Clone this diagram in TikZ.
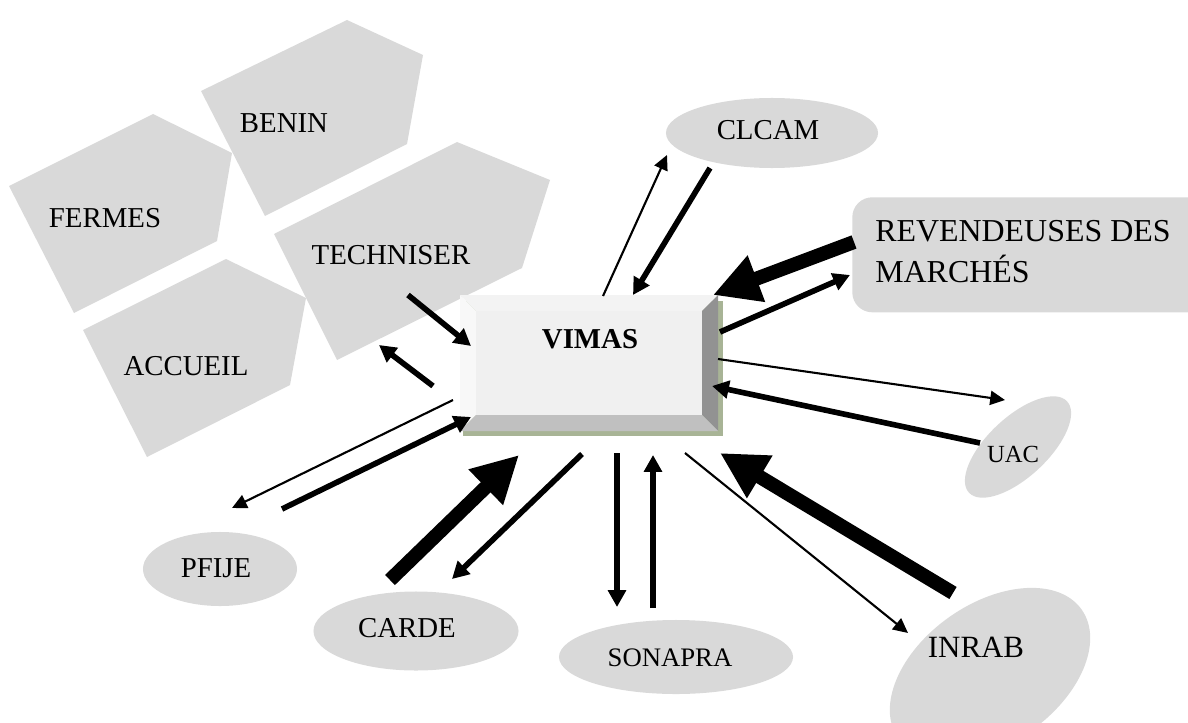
\documentclass[tikz,border=0pt]{standalone}
\usepackage{fontspec}
\setmainfont{Liberation Serif}
\usetikzlibrary{arrows.meta,positioning,shapes.geometric}
\definecolor{blobgray}{HTML}{D9D9D9}
\definecolor{bevtop}{HTML}{F3F3F3}
\definecolor{bevleft}{HTML}{F8F8F8}
\definecolor{bevface}{HTML}{F0F0F0}
\definecolor{bevright}{HTML}{929292}
\definecolor{bevbottom}{HTML}{C0C0C0}
\definecolor{boxshadow}{HTML}{A8B496}
\tikzset{
  blob/.style={fill=blobgray},
  oval/.style={ellipse,fill=blobgray,inner sep=0pt},
  lbl/.style={inner sep=0pt,anchor=base,font=\fontsize{20.5}{24}\selectfont},
  thinarr/.style={line width=1.5pt,-{Triangle[length=10.5pt,width=10pt]}},
  midarr/.style={line width=4pt,-{Triangle[length=12pt,width=12.5pt]}},
  bigarr/.style={line width=10pt,-{Triangle[length=33pt,width=33pt]}}
}

\begin{document}
\begin{tikzpicture}[x=0.025cm,y=-0.025cm]
\useasboundingbox (0,0) rectangle (1188,722);
\clip (0,0) rectangle (1188,722);
\fill[blob] (153,114)--(232,153)--(217,241)--(74,313)--(9,186)--cycle;
\fill[blob] (201,91)--(347,20)--(423,55)--(407,144)--(265,216)--cycle;
\fill[blob] (274,234)--(457,142)--(550,180)--(522,268)--(337,360)--cycle;
\fill[blob] (83,330)--(226,259)--(306,298)--(290,385)--(147,457)--cycle;
\node[lbl] (fermes) at (105,227) {FERMES};
\node[lbl] (benin) at (284,133) {BENIN};
\node[lbl] (techniser) at (391,264) {TECHNISER};
\node[lbl] (accueil) at (186,375) {ACCUEIL};
\coordinate (b1) at (460,295);
\coordinate (b2) at (718,295);
\coordinate (b3) at (718,431);
\coordinate (b4) at (460,431);
\coordinate (i1) at (476,311);
\coordinate (i2) at (702,311);
\coordinate (i3) at (702,415);
\coordinate (i4) at (476,415);
\fill[boxshadow] (463,301) rectangle (723,436);
\fill[bevtop] (b1)--(b2)--(i2)--(i1)--cycle;
\fill[bevleft] (b1)--(i1)--(i4)--(b4)--cycle;
\fill[bevright] (b2)--(b3)--(i3)--(i2)--cycle;
\fill[bevbottom] (b4)--(i4)--(i3)--(b3)--cycle;
\fill[bevface] (i1) rectangle (i3);
\node[lbl,font=\fontsize{20.5}{24}\selectfont\bfseries] (vimas) at (590,348) {VIMAS};
\node[oval,minimum width=5.3cm,minimum height=1.75cm] (clcam) at (772,133) {};
\node[lbl] (clcam-t) at (768,140) {CLCAM};
\node[fill=blobgray,rounded corners=0.5cm,minimum width=9cm,minimum height=2.875cm,anchor=north west,inner sep=0pt] (rev) at (852,197) {};
\node[anchor=north west,inner sep=0pt,align=left,font=\fontsize{22.7}{29.2}\selectfont] (rev-t) at (875,220) {REVENDEUSES DES\\MARCHÉS};
\node[oval,minimum width=3.35cm,minimum height=1.5cm,rotate=43] (uac) at (1018,447) {};
\node[lbl,font=\fontsize{17.5}{20}\selectfont] (uac-t) at (1013,462) {UAC};
\node[oval,minimum width=5.6cm,minimum height=3.5cm,rotate=35] (inrab) at (990,674) {};
\node[lbl,font=\fontsize{22}{26}\selectfont] (inrab-t) at (976,657) {INRAB};
\node[oval,minimum width=5.85cm,minimum height=1.85cm] (sonapra) at (676,657) {};
\node[lbl,font=\fontsize{19}{22}\selectfont] (sonapra-t) at (670,666) {SONAPRA};
\node[oval,minimum width=5.125cm,minimum height=1.975cm] (carde) at (416,631) {};
\node[lbl] (carde-t) at (407,637) {CARDE};
\node[oval,minimum width=3.85cm,minimum height=1.85cm] (pfije) at (220,569) {};
\node[lbl] (pfije-t) at (216,577) {PFIJE};
\coordinate (tv1) at (408,295);
\coordinate (tv2) at (471,346);
\coordinate (vt1) at (433,386);
\coordinate (vt2) at (379,345);
\coordinate (vp1) at (453,400);
\coordinate (vp2) at (232,508);
\coordinate (pv1) at (282,509);
\coordinate (pv2) at (471,417);
\coordinate (cv1) at (390,580);
\coordinate (cv2) at (519,455);
\coordinate (vc1) at (582,454);
\coordinate (vc2) at (452,579);
\coordinate (vs1) at (617,453);
\coordinate (vs2) at (617,607);
\coordinate (sv1) at (653,608);
\coordinate (sv2) at (653,455);
\coordinate (vi1) at (685,453);
\coordinate (vi2) at (908,633);
\coordinate (iv1) at (953,593);
\coordinate (iv2) at (720,453);
\coordinate (uv1) at (980,443);
\coordinate (uv2) at (712,386);
\coordinate (vu1) at (718,359);
\coordinate (vu2) at (1005,400);
\coordinate (vr1) at (720,332);
\coordinate (vr2) at (850,275);
\coordinate (rv1) at (854,242);
\coordinate (rv2) at (713,295);
\coordinate (lv1) at (710,168);
\coordinate (lv2) at (633,295);
\coordinate (vl1) at (603,296);
\coordinate (vl2) at (667,155);
\draw[midarr] (tv1)--(tv2);
\draw[midarr] (vt1)--(vt2);
\draw[thinarr] (vp1)--(vp2);
\draw[midarr] (pv1)--(pv2);
\draw[bigarr] (cv1)--(cv2);
\draw[midarr] (vc1)--(vc2);
\draw[midarr] (vs1)--(vs2);
\draw[midarr] (sv1)--(sv2);
\draw[thinarr] (vi1)--(vi2);
\draw[bigarr] (iv1)--(iv2);
\draw[midarr] (uv1)--(uv2);
\draw[thinarr] (vu1)--(vu2);
\draw[midarr] (vr1)--(vr2);
\draw[bigarr] (rv1)--(rv2);
\draw[midarr] (lv1)--(lv2);
\draw[thinarr] (vl1)--(vl2);
\end{tikzpicture}
\end{document}
